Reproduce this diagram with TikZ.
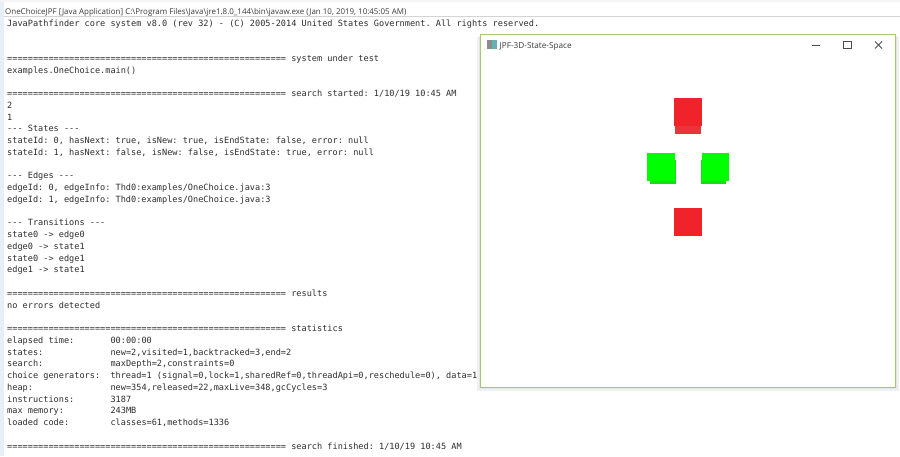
\documentclass[tikz,border=0pt]{standalone}
\usepackage{fontspec}
\setmainfont{Open Sans}
\setmonofont{DejaVu Sans Mono}
\definecolor{consoleink}{HTML}{2E2E2E}
\definecolor{headink}{HTML}{3A3A3A}
\definecolor{sidestrip}{HTML}{E6EEF7}
\definecolor{headrule}{HTML}{D4D4D4}
\definecolor{winframe}{HTML}{A5C96E}
\definecolor{cubered}{HTML}{F0222A}
\definecolor{cubereddark}{HTML}{E8343A}
\definecolor{cubegreen}{HTML}{00FF00}
\definecolor{cubegreendark}{HTML}{12E012}
\tikzset{
  consoleline/.style={anchor=base west,inner sep=0pt,text=consoleink,font=\ttfamily\fontsize{8.58}{10}\selectfont},
  headline/.style={anchor=base west,inner sep=0pt,text=headink,font=\fontsize{7.95}{10}\selectfont},
  titleline/.style={anchor=base west,inner sep=0pt,text=headink,font=\fontsize{8.2}{10}\selectfont},
  winbutton/.style={draw=black!70,line width=.8pt}
}
\begin{document}
\begin{tikzpicture}[x=1pt,y=-1pt]
\useasboundingbox (0,0) rectangle (900,456);
\fill[white] (0,0) rectangle (900,456);
\fill[sidestrip] (0,0) rectangle (4,456);
\fill[black!4] (0,0) rectangle (900,2);
\draw[headrule] (4,16.5) -- (900,16.5);

\node[headline] (head) at (5,14.5) {OneChoiceJPF [Java Application] C:\textbackslash Program Files\textbackslash Java\textbackslash jre1.8.0\_144\textbackslash bin\textbackslash javaw.exe (Jan 10, 2019, 10:45:05 AM)};

\node[consoleline] (line0) at (7,26) {JavaPathfinder core system v8.0 (rev 32) - (C) 2005-2014 United States Government. All rights reserved.};
\node[consoleline] (line3) at (7,61.25) {====================================================== system under test};
\node[consoleline] (line4) at (7,73) {examples.OneChoice.main()};
\node[consoleline] (line6) at (7,96.5) {====================================================== search started: 1/10/19 10:45 AM};
\node[consoleline] (line7) at (7,108.25) {2};
\node[consoleline] (line8) at (7,120) {1};
\node[consoleline] (line9) at (7,131.75) {--- States ---};
\node[consoleline] (line10) at (7,143.5) {stateId: 0, hasNext: true, isNew: true, isEndState: false, error: null};
\node[consoleline] (line11) at (7,155.25) {stateId: 1, hasNext: false, isNew: false, isEndState: true, error: null};
\node[consoleline] (line13) at (7,178.75) {--- Edges ---};
\node[consoleline] (line14) at (7,190.5) {edgeId: 0, edgeInfo: Thd0:examples/OneChoice.java:3};
\node[consoleline] (line15) at (7,202.25) {edgeId: 1, edgeInfo: Thd0:examples/OneChoice.java:3};
\node[consoleline] (line17) at (7,225.75) {--- Transitions ---};
\node[consoleline] (line18) at (7,237.5) {state0 -> edge0};
\node[consoleline] (line19) at (7,249.25) {edge0 -> state1};
\node[consoleline] (line20) at (7,261) {state0 -> edge1};
\node[consoleline] (line21) at (7,272.75) {edge1 -> state1};
\node[consoleline] (line23) at (7,296.25) {====================================================== results};
\node[consoleline] (line24) at (7,308) {no errors detected};
\node[consoleline] (line26) at (7,331.5) {====================================================== statistics};
\node[consoleline] (line27) at (7,343.25) {elapsed time:~~~~~~~00:00:00};
\node[consoleline] (line28) at (7,355) {states:~~~~~~~~~~~~~new=2,visited=1,backtracked=3,end=2};
\node[consoleline] (line29) at (7,366.75) {search:~~~~~~~~~~~~~maxDepth=2,constraints=0};
\node[consoleline] (line30) at (7,378.5) {choice generators:~~thread=1 (signal=0,lock=1,sharedRef=0,threadApi=0,reschedule=0), data=1};
\node[consoleline] (line31) at (7,390.25) {heap:~~~~~~~~~~~~~~~new=354,released=22,maxLive=348,gcCycles=3};
\node[consoleline] (line32) at (7,402) {instructions:~~~~~~~3187};
\node[consoleline] (line33) at (7,413.75) {max memory:~~~~~~~~~243MB};
\node[consoleline] (line34) at (7,425.5) {loaded code:~~~~~~~~classes=61,methods=1336};
\node[consoleline] (line36) at (7,449) {====================================================== search finished: 1/10/19 10:45 AM};

% window
\fill[black!6] (477,37) rectangle (899,391);
\fill[black!10] (479,36) rectangle (897,389);
\draw[winframe,fill=white,line width=1pt] (480.5,34.5) rectangle (895.5,387.5);
\fill[black!45] (487,40) rectangle (492,49);
\fill[teal!60] (492,40) rectangle (497,49);
\node[titleline] (wintitle) at (499.5,48.5) {JPF-3D-State-Space};
\draw[winbutton] (812,45) -- (819.5,45);
\draw[winbutton] (843.5,41.5) rectangle (851,48.5);
\draw[winbutton] (875,41.5) -- (882,48.5);
\draw[winbutton] (882,41.5) -- (875,48.5);

% cubes
\fill[cubereddark] (675,120) rectangle (701,133.5);
\fill[cubered] (674,98) rectangle (702,126);
\fill[cubegreendark] (650,160) rectangle (675.5,184);
\fill[cubegreen] (647,153) rectangle (675,181);
\fill[cubegreendark] (700.5,160) rectangle (726,184);
\fill[cubegreen] (702,153) rectangle (729,181);
\fill[cubered] (674,207.5) rectangle (702,235.5);
\end{tikzpicture}
\end{document}
